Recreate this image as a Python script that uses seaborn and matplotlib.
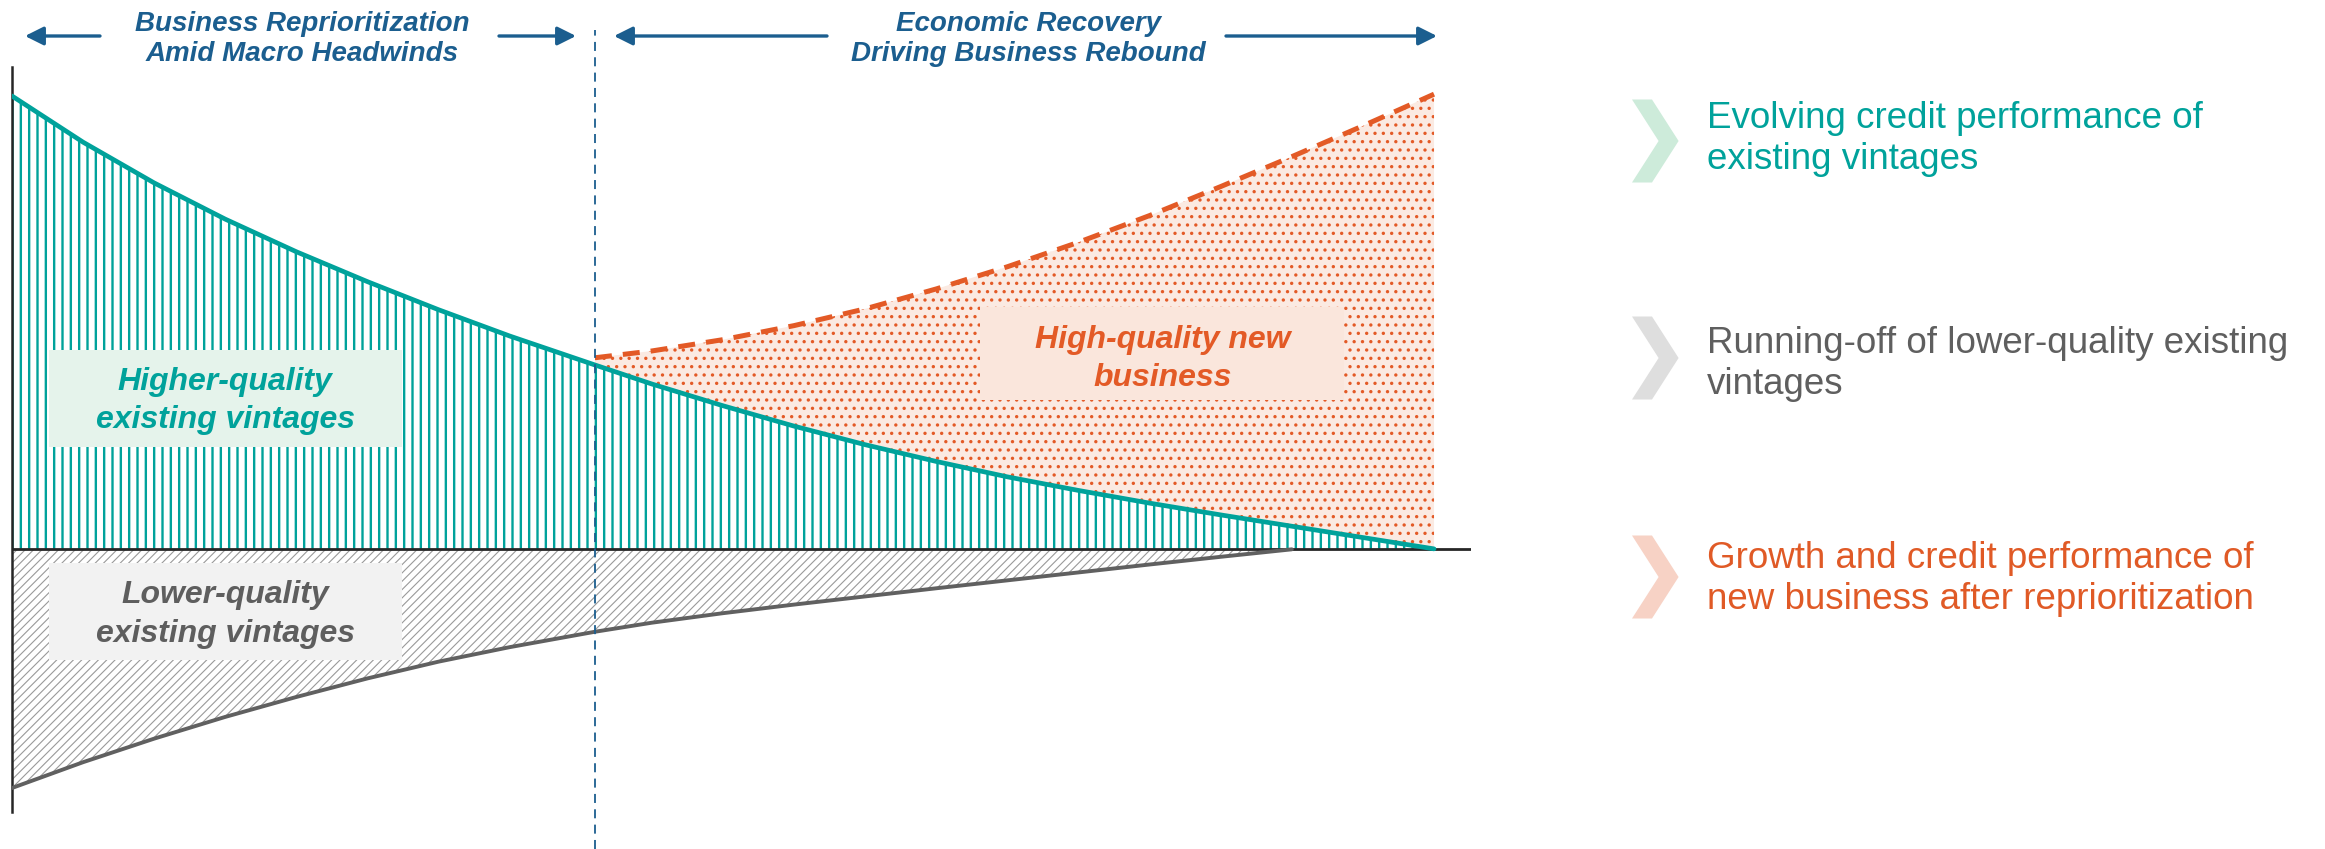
import numpy as np
import pandas as pd
import matplotlib
matplotlib.use("Agg")
import matplotlib.pyplot as plt
from matplotlib.patches import Polygon, Rectangle, FancyArrowPatch
import seaborn as sns

nan = np.nan

# ---------------------------------------------------------------- data
# time index (0 = start of reprioritization, 100 = end of horizon)
period = [0, 5, 10, 15, 20, 25, 30, 35, 41, 45, 50, 55, 60, 65, 70, 75, 80, 85, 90, 95, 100]
# book index, higher-quality existing vintages = 100 at start
higher_quality = [100, 89.8, 80.8, 72.8, 65.6, 59.0, 52.8, 47.0, 40.6, 36.4, 31.6,
                  27.1, 23.0, 19.3, 15.9, 12.9, 10.1, 7.5, 5.0, 2.5, 0.0]
lower_quality = [-52.8, -47.1, -41.9, -37.1, -32.7, -28.6, -24.9, -21.7, -18.3, -16.3, -14.2,
                 -12.3, -10.5, -8.7, -6.95, -5.2, -3.45, -1.75, -0.1, nan, nan]
new_business_top = [nan, nan, nan, nan, nan, nan, nan, nan, 42.2, 43.7, 46.2,
                    49.3, 53.0, 57.4, 62.3, 67.7, 73.6, 80.0, 86.6, 93.4, 100.4]
phase_break = 41

phase_titles = ["Business Reprioritization\nAmid Macro Headwinds",
                "Economic Recovery\nDriving Business Rebound"]
area_labels = ["Higher-quality\nexisting vintages",
               "Lower-quality\nexisting vintages",
               "High-quality new\nbusiness"]
legend_texts = ["Evolving credit performance of\nexisting vintages",
                "Running-off of lower-quality existing\nvintages",
                "Growth and credit performance of\nnew business after reprioritization"]

# ---------------------------------------------------------------- style
TEAL = "#00A29B"
GREY = "#606060"
ORANGE = "#E35A26"
NAVY = "#1B5E8F"
PEACH = "#FBEAE2"

df = pd.DataFrame({"period": period, "higher": higher_quality,
                   "lower": lower_quality, "new_top": new_business_top})

sns.set_theme(style="white")
plt.rcParams["font.family"] = ["Liberation Sans", "DejaVu Sans"]

W, H = 2325, 849
fig = plt.figure(figsize=(W / 100, H / 100), dpi=100)


def fx(px):
    return px / W


def fy(py):
    return 1 - py / H


ax = fig.add_axes([fx(12), fy(812), fx(1471) - fx(12), fy(67) - fy(812)])
ax.set_xlim(0, 102.6)
ax.set_ylim(-58.1, 106.4)

# lower-quality vintages: grey diagonal hatch below the axis
low = df.dropna(subset=["lower"])
plt.rcParams["hatch.linewidth"] = 0.8
ax.fill_between(low["period"], low["lower"], 0, facecolor="white",
                edgecolor="#9A9A9A", hatch="////", linewidth=0, zorder=1)

# higher-quality vintages: teal vertical hatch
plt.rcParams["hatch.linewidth"] = 1.7
ax.fill_between(df["period"], 0, df["higher"], facecolor="white",
                edgecolor=TEAL, hatch="||", linewidth=0, zorder=1)

# new business: dotted peach band between existing book and total
new = df.dropna(subset=["new_top"])
plt.rcParams["hatch.linewidth"] = 1.2
ax.fill_between(new["period"], new["higher"], new["new_top"], facecolor=PEACH,
                edgecolor=ORANGE, hatch="..", linewidth=0, zorder=1)

sns.lineplot(data=low, x="period", y="lower", color=GREY, linewidth=2.8, ax=ax, zorder=3)
sns.lineplot(data=df, x="period", y="higher", color=TEAL, linewidth=3.4, ax=ax, zorder=3)
sns.lineplot(data=new, x="period", y="new_top", color=ORANGE, linewidth=3.6,
             linestyle=(0, (3.4, 2.2)), ax=ax, zorder=3)

ax.axhline(0, color="#262626", linewidth=2.0, zorder=2.5)
ax.axvline(phase_break, ymin=-0.05, ymax=(812 - 30) / 745, color=NAVY, linewidth=1.3,
           linestyle=(0, (5, 3.5)), clip_on=False, zorder=3.5)

for side in ["top", "right", "bottom"]:
    ax.spines[side].set_visible(False)
ax.spines["left"].set_color("#262626")
ax.spines["left"].set_linewidth(1.8)
ax.set_xticks([])
ax.set_yticks([])
ax.set_xlabel("")
ax.set_ylabel("")

# area labels on tinted boxes
label_boxes = [((2.6, 22.5), 24.8, 21.4, "#E5F3EB", TEAL, (15.0, 32.7)),
               ((2.6, -24.5), 24.8, 21.4, "#F2F2F2", "#5E5E5E", (15.0, -14.5)),
               ((68.1, 32.9), 25.6, 20.5, "#FAE6DC", ORANGE, (80.9, 42.0))]
for (xy, w, h, fc, tc, txy), label in zip(label_boxes, area_labels):
    ax.add_patch(Rectangle(xy, w, h, facecolor=fc, edgecolor="none", zorder=4))
    ax.text(*txy, label, ha="center", va="center", color=tc, fontsize=23,
            fontweight="bold", fontstyle="italic", linespacing=1.36, zorder=5)

# phase headers with arrows
header_specs = [(302, [(100, 25), (499, 576)]),
                (1028, [(827, 614), (1226, 1437)])]
for (cx, arrows), title in zip(header_specs, phase_titles):
    fig.text(fx(cx), fy(39), title, ha="center", va="center", color=NAVY,
             fontsize=20, fontweight="bold", fontstyle="italic", linespacing=1.22)
    for x0, x1 in arrows:
        fig.add_artist(FancyArrowPatch((fx(x0), fy(36)), (fx(x1), fy(36)),
                                       transform=fig.transFigure, arrowstyle="-|>",
                                       mutation_scale=28, linewidth=2.4, color=NAVY,
                                       shrinkA=0, shrinkB=0))

# right-hand commentary with chevrons
chevron_colors = ["#CDEBDA", "#DEDEDE", "#F7D2C5"]
text_colors = [TEAL, "#5F5F5F", "#E05A26"]
chevron_y = [141, 358, 577]
text_y = [139, 364, 579]
for cy, ty, cc, tc, txt in zip(chevron_y, text_y, chevron_colors, text_colors, legend_texts):
    x0 = 1632
    pts = [(x0, cy - 41.5), (x0 + 20, cy - 41.5), (x0 + 46.6, cy),
           (x0 + 20, cy + 41.5), (x0, cy + 41.5), (x0 + 26.6, cy)]
    fig.add_artist(Polygon([(fx(a), fy(b)) for a, b in pts], closed=True,
                           transform=fig.transFigure, facecolor=cc, edgecolor="none"))
    fig.text(fx(1707), fy(ty), txt, ha="left", va="center", color=tc,
             fontsize=26.5, linespacing=1.22)

fig.savefig("out.png", dpi=100)
